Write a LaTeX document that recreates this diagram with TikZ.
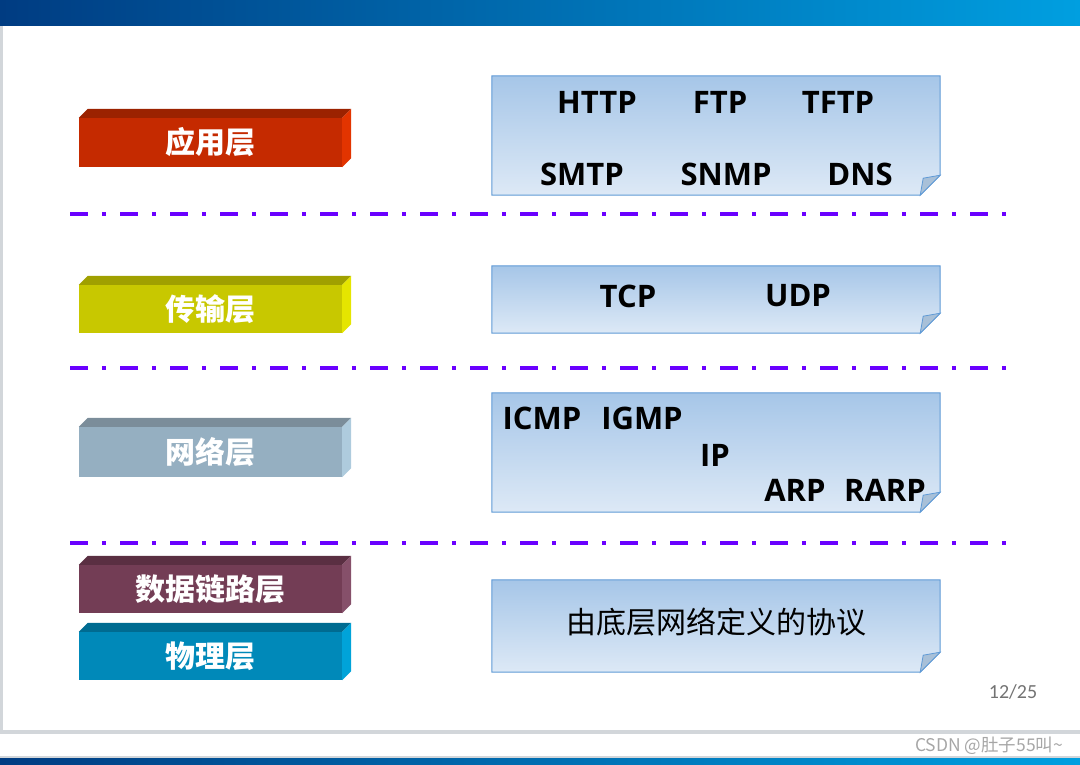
\documentclass[tikz,border=0pt]{standalone}
\usepackage{fontspec}
\setmainfont{Open Sans}
\newfontfamily\cjk{Noto Sans CJK SC}
\newfontfamily\pagefont{Carlito}
\usepackage{tikz}
\usetikzlibrary{positioning}
\definecolor{apptop}{HTML}{9B2200}
\definecolor{appfront}{HTML}{C52A00}
\definecolor{appside}{HTML}{E23400}
\definecolor{transtop}{HTML}{A0A000}
\definecolor{transfront}{HTML}{C8C800}
\definecolor{transside}{HTML}{E5E500}
\definecolor{nettop}{HTML}{7B8D9A}
\definecolor{netfront}{HTML}{95AFC1}
\definecolor{netside}{HTML}{AECBDD}
\definecolor{linktop}{HTML}{5A2F42}
\definecolor{linkfront}{HTML}{733D55}
\definecolor{linkside}{HTML}{86506A}
\definecolor{phystop}{HTML}{006B91}
\definecolor{physfront}{HTML}{0089B9}
\definecolor{physside}{HTML}{00A3D9}
\definecolor{boxtop}{HTML}{A6C6E8}
\definecolor{boxbottom}{HTML}{DDE9F6}
\definecolor{boxline}{HTML}{5F9AD6}
\definecolor{foldfill}{HTML}{A8C0D8}
\definecolor{sepviolet}{HTML}{6A00FF}
\definecolor{bandleft}{HTML}{003C82}
\definecolor{bandmid}{HTML}{00509C}
\definecolor{bandright}{HTML}{009FE0}
\definecolor{framegray}{HTML}{D2D6DA}

\begin{document}
\begin{tikzpicture}[
  x=1pt, y=-1pt,
  layer/.style={inner sep=0pt, minimum width=263pt, minimum height=49pt,
    text=white, font=\fontsize{30}{36}\selectfont\cjk\bfseries},
  protobox/.style={inner sep=0pt, minimum width=448pt},
  proto/.style={inner sep=0pt, font=\fontsize{31}{37}\selectfont\bfseries},
  sepline/.style={draw=sepviolet, line width=4pt,
    dash pattern=on 18pt off 14pt on 4pt off 14pt}
]
  \useasboundingbox (0,0) rectangle (1080,765);
  % slide frame
  \shade[left color=bandleft, middle color=bandmid, right color=bandright] (0,0) rectangle (1080,26);
  \fill[framegray] (0,26) rectangle (3,730);
  \fill[framegray] (0,730) rectangle (1080,734);
  \fill[framegray] (0,756) rectangle (1080,758);
  \shade[left color=bandleft, middle color=bandmid, right color=bandright] (0,758) rectangle (1080,765);

  % layers
  \node[layer, fill=appfront] (app) at (210.5,142.5) {应用层};
  \node[layer, fill=transfront, minimum height=48pt] (trans) at (210.5,309) {传输层};
  \node[layer, fill=netfront, minimum height=50pt] (net) at (210.5,452) {网络层};
  \node[layer, fill=linkfront, minimum height=48pt] (link) at (210.5,589) {数据链路层};
  \node[layer, fill=physfront, minimum height=48pt] (phys) at (210.5,656) {物理层};
  \foreach \l in {app,trans,net,link,phys} {
    \fill[\l top] (\l.north west) -- ([shift={(9,-9)}]\l.north west)
      -- ([shift={(9,-9)}]\l.north east) -- (\l.north east) -- cycle;
    \fill[\l side] (\l.north east) -- ([shift={(9,-9)}]\l.north east)
      -- ([shift={(9,-9)}]\l.south east) -- (\l.south east) -- cycle;
  }

  % protocol boxes
  \node[protobox, minimum height=119pt] (appbox) at (716,135.5) {};
  \node[protobox, minimum height=67pt] (transbox) at (716,299.5) {};
  \node[protobox, minimum height=119pt] (netbox) at (716,452.5) {};
  \node[protobox, minimum height=92pt] (linkbox) at (716,626) {};
  \foreach \b in {appbox,transbox,netbox,linkbox} {
    \shadedraw[top color=boxtop, bottom color=boxbottom, draw=boxline, line width=1pt]
      (\b.north west) -- (\b.north east) -- ([yshift=20pt]\b.south east)
      -- ([xshift=-20pt]\b.south east) -- (\b.south west) -- cycle;
    \filldraw[fill=foldfill, draw=boxline, line width=0.8pt]
      ([xshift=-20pt]\b.south east) -- ([yshift=20pt]\b.south east)
      -- ([xshift=-17pt,yshift=17pt]\b.south east) -- cycle;
  }

  \node[proto] (http) at (597,102) {HTTP};
  \node[proto] (ftp) at (720,102) {FTP};
  \node[proto] (tftp) at (838,102) {TFTP};
  \node[proto] (smtp) at (582,174) {SMTP};
  \node[proto] (snmp) at (726,174) {SNMP};
  \node[proto] (dns) at (860,174) {DNS};
  \node[proto] (tcp) at (628,296) {TCP};
  \node[proto] (udp) at (798,296) {UDP};
  \node[proto] (icmp) at (542,418) {ICMP};
  \node[proto] (igmp) at (642,418) {IGMP};
  \node[proto] (ip) at (715,455) {IP};
  \node[proto] (arp) at (795,490) {ARP};
  \node[proto] (rarp) at (885,490) {RARP};
  \node[font=\fontsize{30}{36}\selectfont\cjk] (lower) at (716,622) {由底层网络定义的协议};

  % separators
  \path[sepline] (70,214) -- (1014,214);
  \path[sepline] (70,368) -- (1014,368);
  \path[sepline] (70,543) -- (1014,543);

  \node[text=gray!90!black, font=\fontsize{20}{22}\selectfont\pagefont] (pageno) at (1013,692) {12/25};
  \node[text=gray!70, font=\fontsize{17.5}{20}\selectfont\cjk] (mark) at (989,746) {CSDN @肚子55叫\textasciitilde};
\end{tikzpicture}
\end{document}
